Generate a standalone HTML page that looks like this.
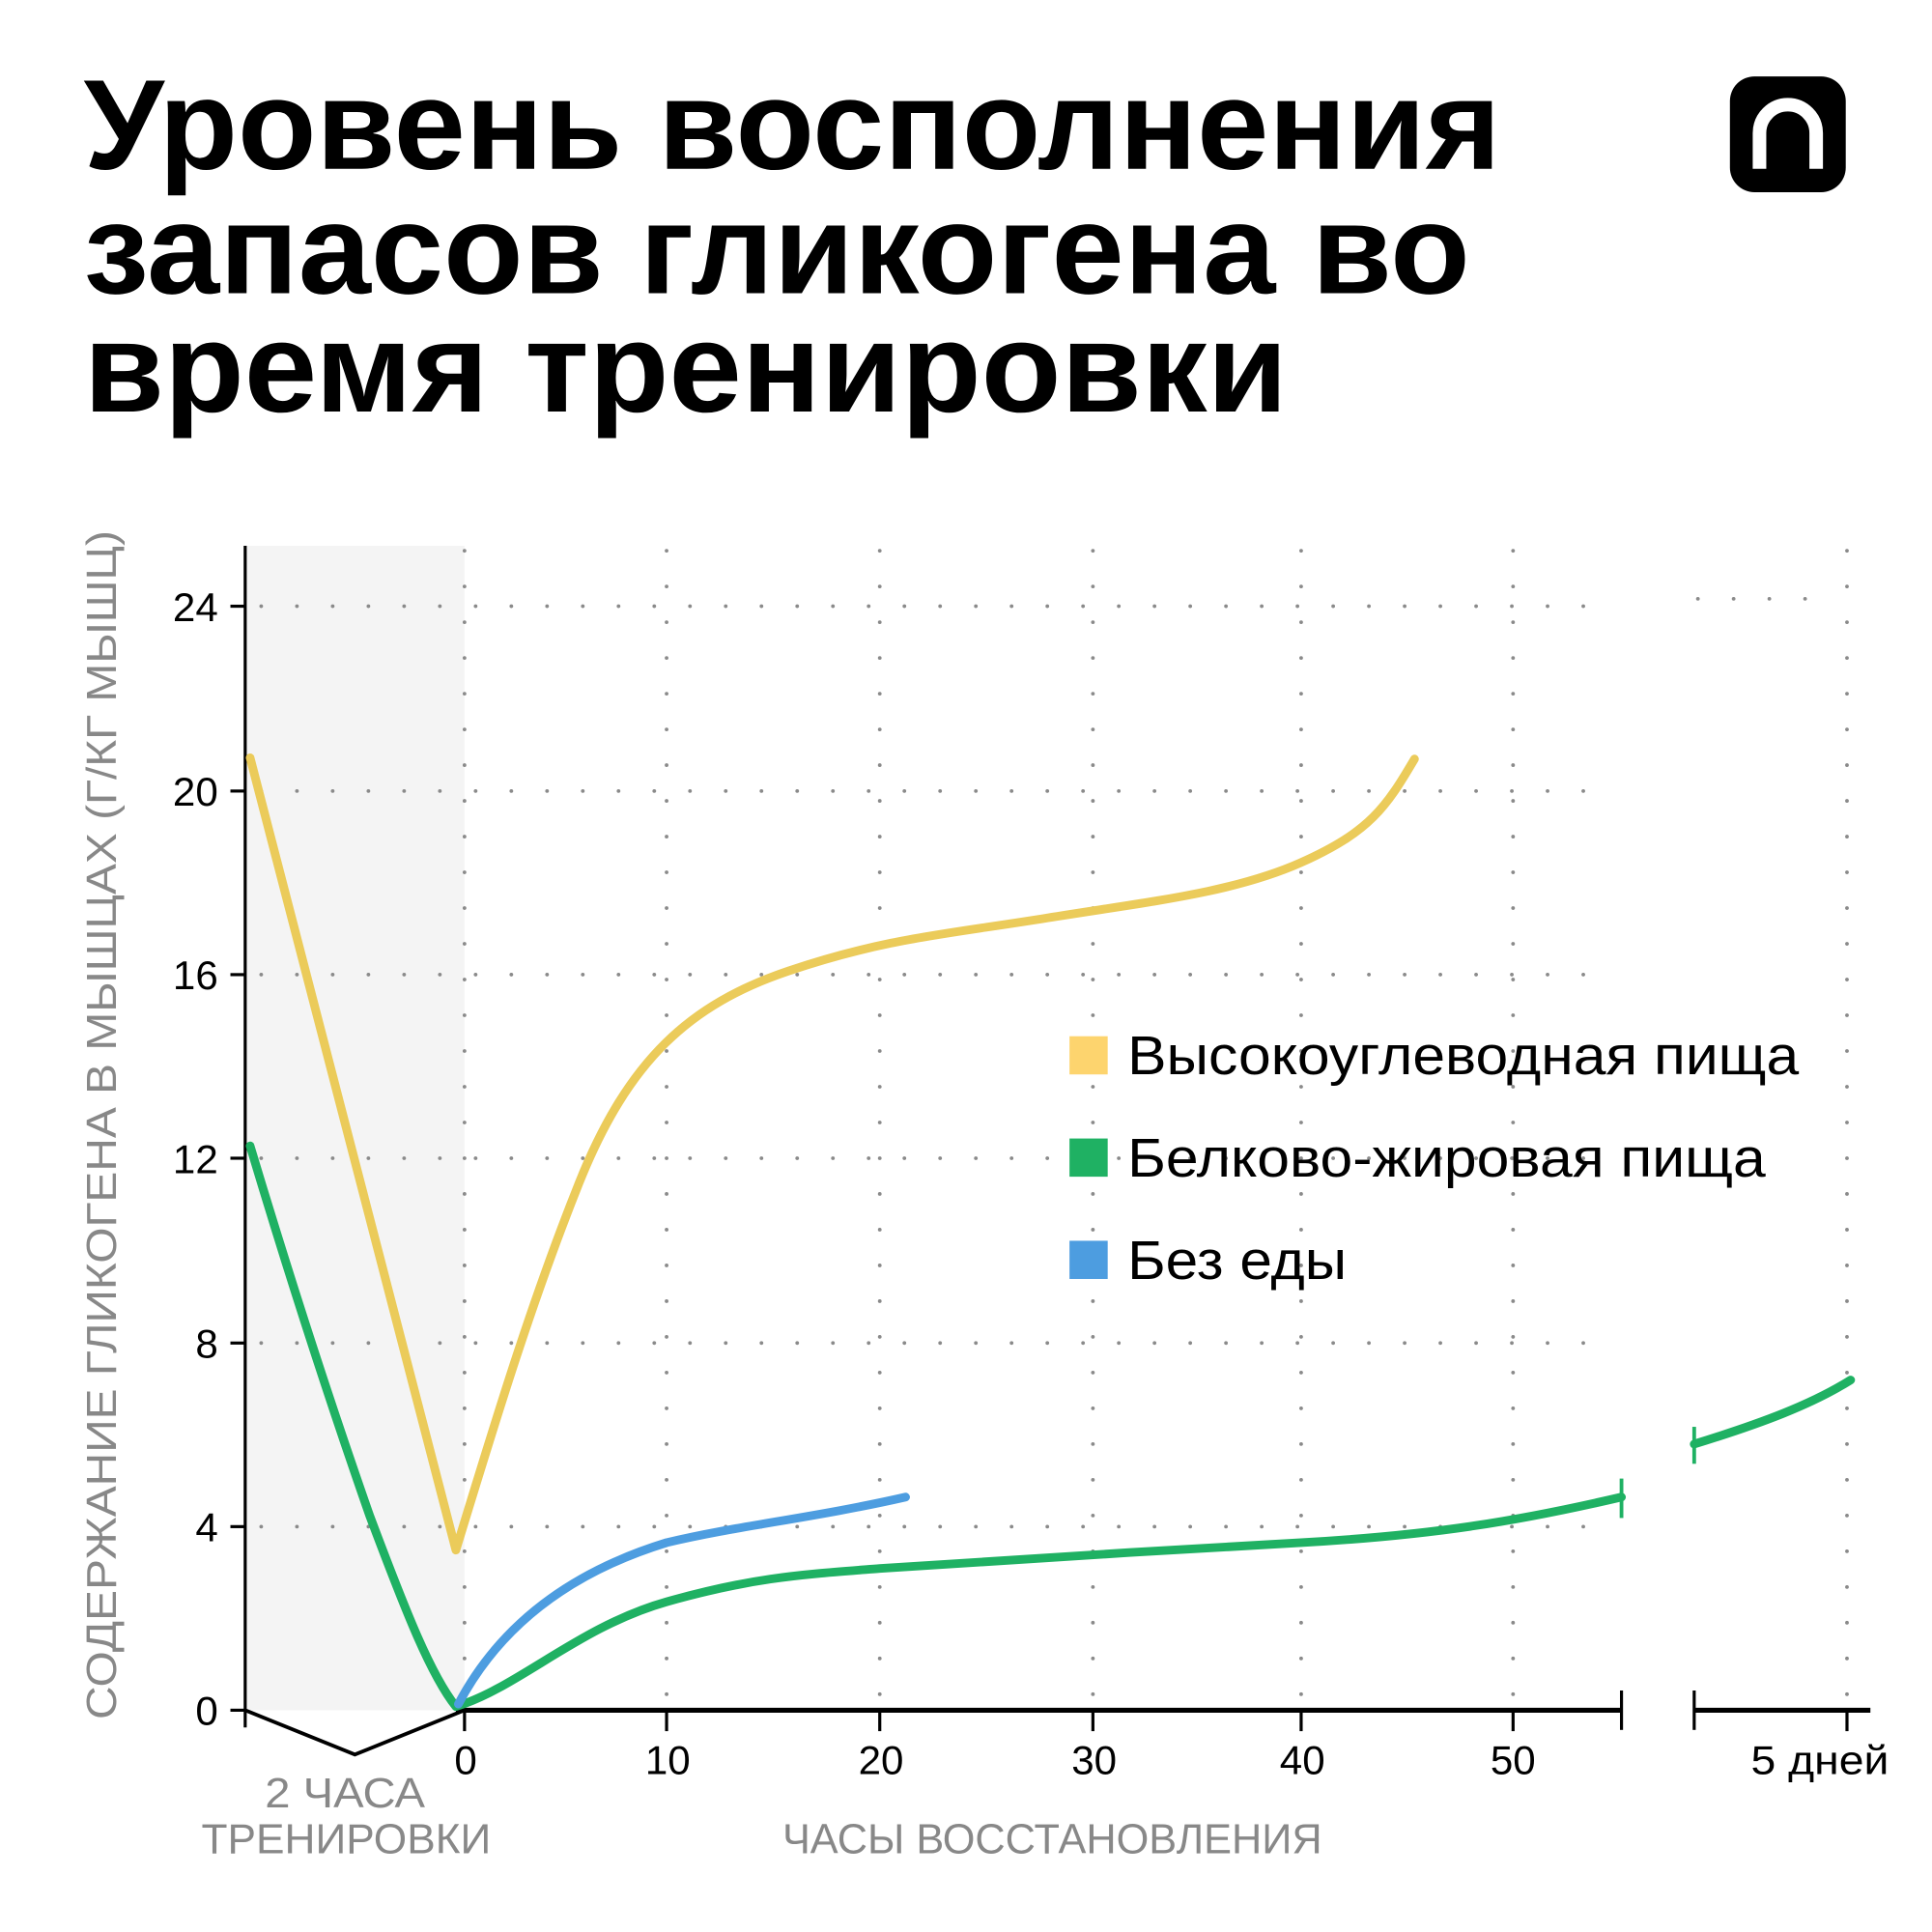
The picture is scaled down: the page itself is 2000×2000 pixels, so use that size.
<!DOCTYPE html>
<html><head><meta charset="utf-8"><style>
html,body{margin:0;padding:0;background:#fff;}
svg{display:block;}
text{font-family:"Liberation Sans",sans-serif;}
</style></head><body>
<svg width="2000" height="2000" viewBox="0 0 1568 1568" xmlns="http://www.w3.org/2000/svg">
<rect width="1570" height="1570" fill="#fff"/>
<g font-weight="bold" font-size="104" fill="#000">
<text x="68" y="137" textLength="1150" lengthAdjust="spacingAndGlyphs">Уровень восполнения</text>
<text x="68" y="238" textLength="1125" lengthAdjust="spacingAndGlyphs">запасов гликогена во</text>
<text x="68" y="334" textLength="977" lengthAdjust="spacingAndGlyphs">время тренировки</text>
</g>
<rect x="1404" y="62" width="94" height="94" rx="20" fill="#000"/>
<path d="M1428 137 V108 A23 23 0 0 1 1474 108 V137" fill="none" stroke="#fff" stroke-width="11"/>
<rect x="199" y="443" width="178" height="945" fill="#f4f4f4"/>
<g stroke="#8a8a8a" stroke-width="3" stroke-linecap="round" stroke-dasharray="0 29">
<line x1="377" y1="447" x2="377" y2="1388"/>
<line x1="541" y1="447" x2="541" y2="1388"/>
<line x1="714" y1="447" x2="714" y2="1388"/>
<line x1="887" y1="447" x2="887" y2="1388"/>
<line x1="1056" y1="447" x2="1056" y2="1388"/>
<line x1="1228" y1="447" x2="1228" y2="1388"/>
<line x1="1499" y1="447" x2="1499" y2="1388"/>
<g>
<line x1="212" y1="492" x2="1310" y2="492"/>
<line x1="212" y1="642" x2="1310" y2="642"/>
<line x1="212" y1="791" x2="1310" y2="791"/>
<line x1="212" y1="940" x2="1310" y2="940"/>
<line x1="212" y1="1090" x2="1310" y2="1090"/>
<line x1="212" y1="1239" x2="1310" y2="1239"/>
<line x1="1378" y1="486" x2="1490" y2="486"/>
</g>
</g>
<line x1="199" y1="443" x2="199" y2="1402" stroke="#000" stroke-width="2.5"/>
<g stroke="#000" stroke-width="2.5">
<line x1="187" y1="492" x2="199" y2="492"/><line x1="187" y1="642" x2="199" y2="642"/>
<line x1="187" y1="791" x2="199" y2="791"/><line x1="187" y1="940" x2="199" y2="940"/>
<line x1="187" y1="1090" x2="199" y2="1090"/><line x1="187" y1="1239" x2="199" y2="1239"/>
<line x1="187" y1="1388" x2="199" y2="1388"/>
<line x1="377" y1="1388" x2="377" y2="1405"/><line x1="541" y1="1388" x2="541" y2="1405"/>
<line x1="714" y1="1388" x2="714" y2="1405"/><line x1="887" y1="1388" x2="887" y2="1405"/>
<line x1="1056" y1="1388" x2="1056" y2="1405"/><line x1="1228" y1="1388" x2="1228" y2="1405"/>
<line x1="1499" y1="1388" x2="1499" y2="1405"/>
<line x1="1316" y1="1372" x2="1316" y2="1404"/><line x1="1375" y1="1372" x2="1375" y2="1404"/>
</g>
<line x1="370" y1="1388" x2="1316" y2="1388" stroke="#000" stroke-width="4"/>
<line x1="1375" y1="1388" x2="1518" y2="1388" stroke="#000" stroke-width="4"/>
<polyline points="199,1388 288,1424 377,1388" fill="none" stroke="#000" stroke-width="3"/>
<g font-size="33" fill="#000" text-anchor="end">
<text x="177" y="504">24</text><text x="177" y="654">20</text><text x="177" y="803">16</text>
<text x="177" y="952">12</text><text x="177" y="1102">8</text><text x="177" y="1251">4</text>
<text x="177" y="1400">0</text>
</g>
<g font-size="33" fill="#000" text-anchor="middle">
<text x="378" y="1440">0</text><text x="542" y="1440">10</text><text x="715" y="1440">20</text>
<text x="888" y="1440">30</text><text x="1057" y="1440">40</text><text x="1228" y="1440">50</text>
<text x="1477" y="1440" textLength="112" lengthAdjust="spacingAndGlyphs">5 дней</text>
</g>
<g font-size="34" fill="#888" text-anchor="middle">
<text x="280" y="1467" textLength="130" lengthAdjust="spacingAndGlyphs">2 ЧАСА</text>
<text x="281" y="1504" textLength="235" lengthAdjust="spacingAndGlyphs">ТРЕНИРОВКИ</text>
<text x="854" y="1504" textLength="438" lengthAdjust="spacingAndGlyphs">ЧАСЫ ВОССТАНОВЛЕНИЯ</text>
<text transform="translate(94,913) rotate(-90)" textLength="965" lengthAdjust="spacingAndGlyphs">СОДЕРЖАНИЕ ГЛИКОГЕНА В МЫШЦАХ (Г/КГ МЫШЦ)</text>
</g>
<g fill="none" stroke-width="7" stroke-linecap="round" stroke-linejoin="round">
<path d="M203,615 L370,1258 C400,1160 430,1060 470,960 S560,815 640,788 S770,758 850,745 S1000,725 1056,700 S1125,655 1148,616" stroke="#ebcb5a"/>
<path d="M203,930 C230,1020 265,1130 300,1230 C330,1310 350,1360 370,1385 C420,1370 470,1320 541,1300 S650,1278 714,1273 S950,1258 1056,1252 S1230,1235 1316,1215" stroke="#1fb163"/>
<path d="M1375,1172 C1430,1155 1470,1140 1502,1120" stroke="#1fb163"/>
<path d="M372,1383 C400,1330 450,1280 541,1252 C600,1238 660,1232 735,1215" stroke="#4d9de0"/>
</g>
<g stroke="#1fb163" stroke-width="3"><line x1="1316" y1="1200" x2="1316" y2="1232"/><line x1="1375" y1="1158" x2="1375" y2="1188"/></g>
<rect x="868" y="841" width="31" height="31" fill="#fdd46e"/>
<rect x="868" y="924" width="31" height="31" fill="#1fb163"/>
<rect x="868" y="1007" width="31" height="31" fill="#4d9de0"/>
<g font-size="44" fill="#000">
<text x="915" y="872" textLength="545" lengthAdjust="spacingAndGlyphs">Высокоуглеводная пища</text>
<text x="915" y="955" textLength="518" lengthAdjust="spacingAndGlyphs">Белково-жировая пища</text>
<text x="915" y="1038" textLength="178" lengthAdjust="spacingAndGlyphs">Без еды</text>
</g>
</svg>
</body></html>
